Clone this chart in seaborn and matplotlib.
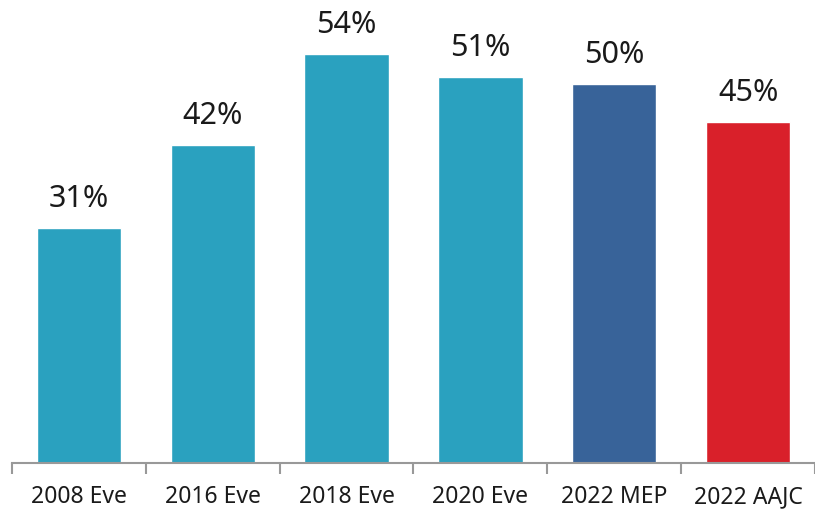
import numpy as np
import pandas as pd
import matplotlib
matplotlib.use("Agg")
import matplotlib.pyplot as plt
import seaborn as sns

# datos
categorias = ["2008 Eve", "2016 Eve", "2018 Eve", "2020 Eve", "2022 MEP", "2022 AAJC"]
valores = [31, 42, 54, 51, 50, 45]
colores = ["#2AA1BF", "#2AA1BF", "#2AA1BF", "#2AA1BF", "#386399", "#D9202A"]

df = pd.DataFrame({"cat": categorias, "val": valores})

sns.set_style("white")
plt.rcParams["font.family"] = ["Noto Sans", "DejaVu Sans"]

fig = plt.figure(figsize=(8.15, 5.10), dpi=100)
ax = fig.add_axes([12 / 815, 46 / 510, 803 / 815, 462 / 510])

sns.barplot(data=df, x="cat", y="val", hue="cat", palette=colores,
            legend=False, width=0.63, saturation=1, ax=ax)

for i, v in enumerate(valores):
    ax.text(i, v + 2.0, f"{v}%", ha="center", va="bottom", fontsize=22,
            fontweight="light", color="#1a1a1a")

ax.set_ylim(0, 61)
ax.set_xlim(-0.5, 5.5)
ax.set_xlabel("")
ax.set_ylabel("")
ax.set_yticks([])
for s in ["top", "right", "left"]:
    ax.spines[s].set_visible(False)
ax.spines["bottom"].set_color("#999999")
ax.spines["bottom"].set_linewidth(1.5)

ax.set_xticks(np.arange(len(categorias)))
ax.set_xticklabels(categorias, fontsize=16.5, fontweight="light", color="#1a1a1a")
ax.tick_params(axis="x", which="major", bottom=False, length=0, pad=15)
ax.set_xticks(np.arange(-0.5, len(categorias), 1), minor=True)
ax.tick_params(axis="x", which="minor", bottom=True, length=8, width=1.5,
               color="#999999", direction="out")

plt.savefig("out.png", dpi=100)
